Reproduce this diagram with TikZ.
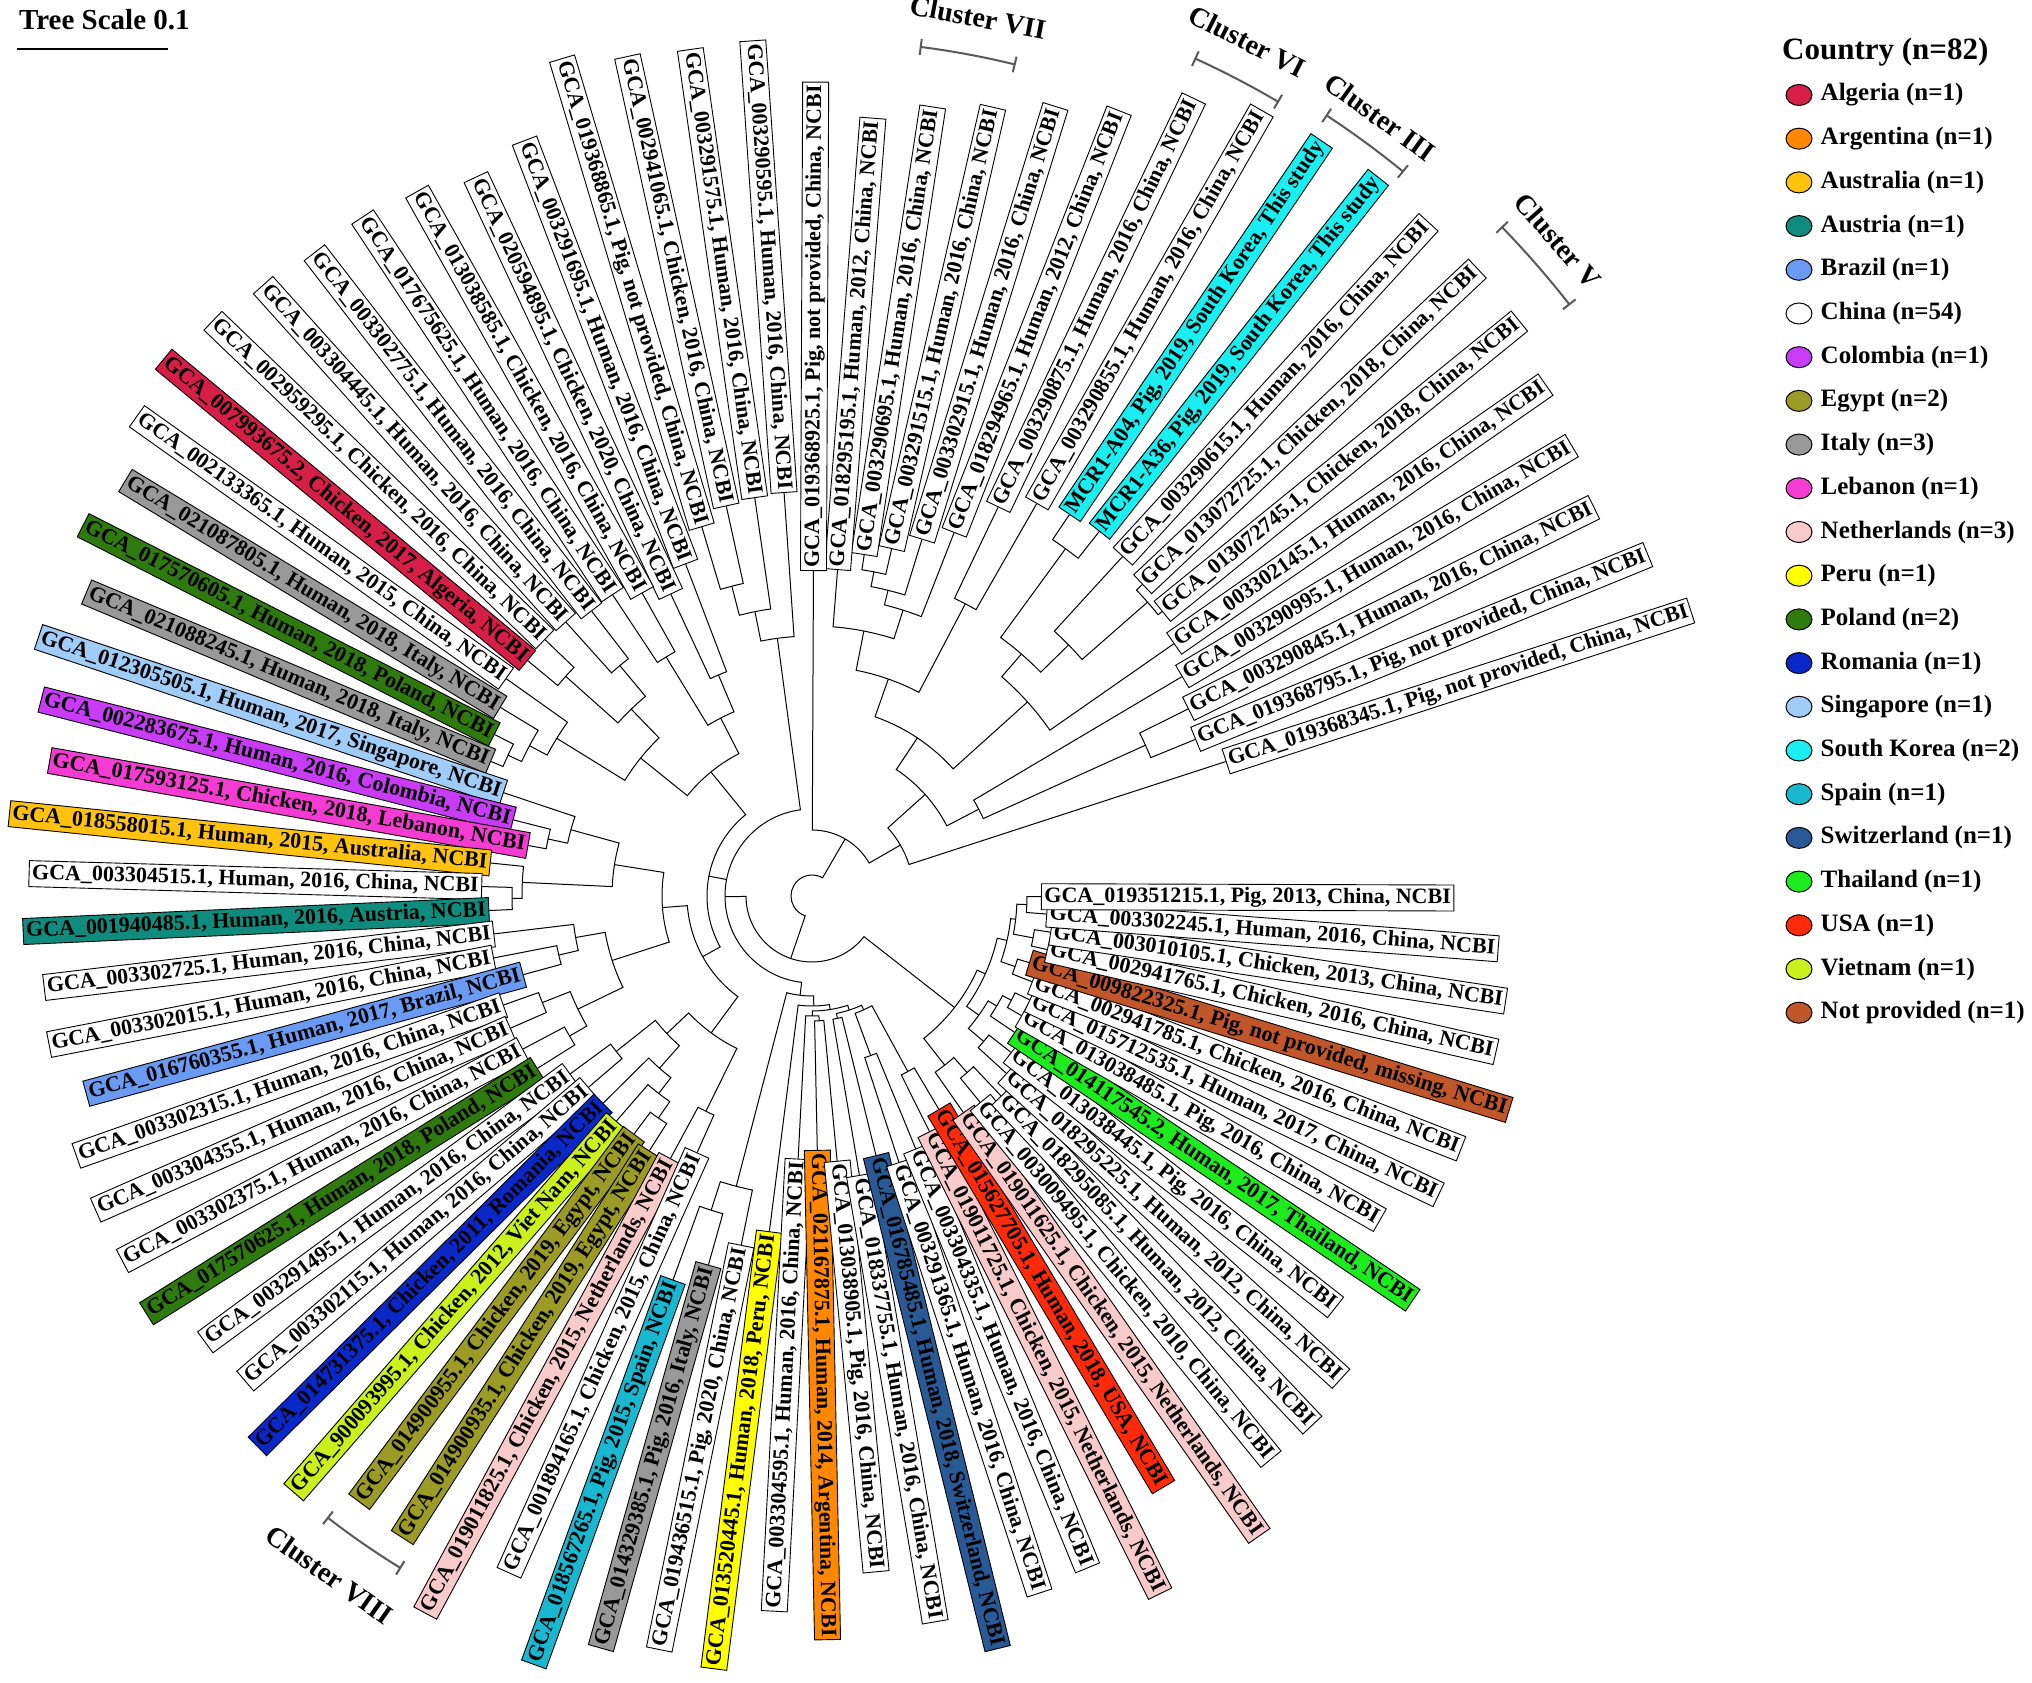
\documentclass[tikz,border=0pt]{standalone}
\usepackage{fontspec}
\setmainfont{Liberation Serif}
\usetikzlibrary{shapes.geometric}

\definecolor{cAlg}{HTML}{D61E46}
\definecolor{cArg}{HTML}{FF8800}
\definecolor{cAus}{HTML}{FFC30F}
\definecolor{cAut}{HTML}{0F8C7D}
\definecolor{cBra}{HTML}{6A9AF2}
\definecolor{cCol}{HTML}{C83CF5}
\definecolor{cEgy}{HTML}{9C9B26}
\definecolor{cIta}{HTML}{999999}
\definecolor{cLeb}{HTML}{F53CD2}
\definecolor{cNet}{HTML}{F9CACA}
\definecolor{cPer}{HTML}{FFFF00}
\definecolor{cPol}{HTML}{2F7A0F}
\definecolor{cRom}{HTML}{0A28C8}
\definecolor{cSin}{HTML}{A0CCF8}
\definecolor{cKor}{HTML}{1AEEF0}
\definecolor{cSpa}{HTML}{1AB8D0}
\definecolor{cSwi}{HTML}{295A96}
\definecolor{cTha}{HTML}{1EEB1E}
\definecolor{cUSA}{HTML}{FF2A0A}
\definecolor{cVie}{HTML}{CCF01E}
\definecolor{cNot}{HTML}{C0562A}

\tikzset{branch/.style = {line width = 1pt},
         lbl/.style = {draw, line width = 0.9pt, inner xsep = 3pt, inner ysep = 3pt,
                       text height = 15.5pt, text depth = 4.5pt,
                       font = \fontsize{22}{24}\selectfont\bfseries},
         keydot/.style = {ellipse, draw, line width = 1pt, minimum width = 26pt,
                          minimum height = 21pt, inner sep = 0pt},
         keytxt/.style = {anchor = west, inner sep = 0pt,
                          font = \fontsize{25}{28}\selectfont\bfseries},
         clbr/.style = {draw = black!65, line width = 2pt},
         cltxt/.style = {inner sep = 0pt, font = \fontsize{28}{31}\selectfont\bfseries}
        }

\newcommand\tnode[4]{%
  \edef\ca{\csname ta@#3\endcsname}\edef\cb{\csname ta@#4\endcsname}%
  \edef\ra{\csname tr@#3\endcsname}\edef\rb{\csname tr@#4\endcsname}%
  \draw[branch] (\ca:\ra) -- (\ca:#2) arc[start angle=\ca, end angle=\cb, radius=#2] -- (\cb:\rb);%
  \pgfmathsetmacro\tmp{(\ca+\cb)/2}%
  \expandafter\xdef\csname ta@#1\endcsname{\tmp}%
  \expandafter\xdef\csname tr@#1\endcsname{#2}}

\newcommand\tnodeiii[5]{%
  \edef\ca{\csname ta@#3\endcsname}\edef\cb{\csname ta@#4\endcsname}\edef\cc{\csname ta@#5\endcsname}%
  \edef\ra{\csname tr@#3\endcsname}\edef\rb{\csname tr@#4\endcsname}\edef\rc{\csname tr@#5\endcsname}%
  \draw[branch] (\ca:\ra) -- (\ca:#2) arc[start angle=\ca, end angle=\cc, radius=#2] -- (\cc:\rc);%
  \draw[branch] (\cb:#2) -- (\cb:\rb);%
  \pgfmathsetmacro\tmp{(\ca+\cc)/2}%
  \expandafter\xdef\csname ta@#1\endcsname{\tmp}%
  \expandafter\xdef\csname tr@#1\endcsname{#2}}

\pgfdeclarelayer{bg}
\pgfsetlayers{bg,main}

\begin{document}
\begin{tikzpicture}[x=1pt, y=1pt]
  \useasboundingbox (-812,-787) rectangle (1220,896);
  \begin{pgfonlayer}{bg}
    \fill[white] (-812,-787) rectangle (1220,896);
  \end{pgfonlayer}

  \foreach \lid/\rad/\col/\txt in {
    1/435/white/{GCA\_019368345.1, Pig, not provided, China, NCBI},
    2/414/white/{GCA\_019368795.1, Pig, not provided, China, NCBI},
    3/420/white/{GCA\_003290845.1, Human, 2016, China, NCBI},
    4/430/white/{GCA\_003290995.1, Human, 2016, China, NCBI},
    5/441/white/{GCA\_003302145.1, Human, 2016, China, NCBI},
    6/451/white/{GCA\_013072745.1, Chicken, 2018, China, NCBI},
    7/454/white/{GCA\_013072725.1, Chicken, 2018, China, NCBI},
    8/460/white/{GCA\_003290615.1, Human, 2016, China, NCBI},
    9/464/cKor/{MCR1-A36, Pig, 2019, South Korea, This study},
    10/460/cKor/{MCR1-A04, Pig, 2019, South Korea, This study},
    11/452/white/{GCA\_003290855.1, Human, 2016, China, NCBI},
    12/431/white/{GCA\_003290875.1, Human, 2016, China, NCBI},
    13/390/white/{GCA\_018294965.1, Human, 2012, China, NCBI},
    14/373/white/{GCA\_003302915.1, Human, 2016, China, NCBI},
    15/356/white/{GCA\_003291515.1, Human, 2016, China, NCBI},
    16/345/white/{GCA\_003290695.1, Human, 2016, China, NCBI},
    17/327/white/{GCA\_018295195.1, Human, 2012, China, NCBI},
    18/325/white/{GCA\_019368925.1, Pig, not provided, China, NCBI},
    19/404/white/{GCA\_003290595.1, Human, 2016, China, NCBI},
    20/402/white/{GCA\_003291575.1, Human, 2016, China, NCBI},
    21/399/white/{GCA\_002941065.1, Chicken, 2016, China, NCBI},
    22/385/white/{GCA\_019368865.1, Pig, not provided, China, NCBI},
    23/355/white/{GCA\_003291695.1, Human, 2016, China, NCBI},
    24/333/white/{GCA\_020594895.1, Chicken, 2020, China, NCBI},
    25/347/white/{GCA\_013038585.1, Chicken, 2016, China, NCBI},
    26/361/white/{GCA\_017675625.1, Human, 2016, China, NCBI},
    27/360/white/{GCA\_003302775.1, Human, 2016, China, NCBI},
    28/368/white/{GCA\_003304445.1, Human, 2016, China, NCBI},
    29/370/white/{GCA\_002959295.1, Chicken, 2016, China, NCBI},
    30/369/cAlg/{GCA\_007993675.2, Chicken, 2017, Algeria, NCBI},
    31/375/white/{GCA\_002133365.1, Human, 2015, China, NCBI},
    32/364/cIta/{GCA\_021087805.1, Human, 2018, Italy, NCBI},
    33/356/cPol/{GCA\_017570605.1, Human, 2018, Poland, NCBI},
    34/348/cIta/{GCA\_021088245.1, Human, 2018, Italy, NCBI},
    35/325/cSin/{GCA\_012305505.1, Human, 2017, Singapore, NCBI},
    36/308/cCol/{GCA\_002283675.1, Human, 2016, Colombia, NCBI},
    37/288/cLeb/{GCA\_017593125.1, Chicken, 2018, Lebanon, NCBI},
    38/323/cAus/{GCA\_018558015.1, Human, 2015, Australia, NCBI},
    39/330/white/{GCA\_003304515.1, Human, 2016, China, NCBI},
    40/323/cAut/{GCA\_001940485.1, Human, 2016, Austria, NCBI},
    41/320/white/{GCA\_003302725.1, Human, 2016, China, NCBI},
    42/324/white/{GCA\_003302015.1, Human, 2016, China, NCBI},
    43/299/cBra/{GCA\_016760355.1, Human, 2017, Brazil, NCBI},
    44/327/white/{GCA\_003302315.1, Human, 2016, China, NCBI},
    45/329/white/{GCA\_003304355.1, Human, 2016, China, NCBI},
    46/327/white/{GCA\_003302375.1, Human, 2016, China, NCBI},
    47/324/cPol/{GCA\_017570625.1, Human, 2018, Poland, NCBI},
    48/300/white/{GCA\_003291495.1, Human, 2016, China, NCBI},
    49/294/white/{GCA\_003302115.1, Human, 2016, China, NCBI},
    50/294/cRom/{GCA\_014731375.1, Chicken, 2011, Romania, NCBI},
    51/298/cVie/{GCA\_900093995.1, Chicken, 2012, Viet Nam, NCBI},
    52/297/cEgy/{GCA\_014900955.1, Chicken, 2019, Egypt, NCBI},
    53/302/cEgy/{GCA\_014900935.1, Chicken, 2019, Egypt, NCBI},
    54/298/cNet/{GCA\_019011825.1, Chicken, 2015, Netherlands, NCBI},
    55/281/white/{GCA\_001894165.1, Chicken, 2015, China, NCBI},
    56/408/cSpa/{GCA\_018567265.1, Pig, 2015, Spain, NCBI},
    57/383/cIta/{GCA\_014329385.1, Pig, 2016, Italy, NCBI},
    58/356/white/{GCA\_019436515.1, Pig, 2020, China, NCBI},
    59/338/cPer/{GCA\_013520445.1, Human, 2018, Peru, NCBI},
    60/263/white/{GCA\_003304595.1, Human, 2016, China, NCBI},
    61/254/cArg/{GCA\_021167875.1, Human, 2014, Argentina, NCBI},
    62/266/white/{GCA\_013038905.1, Pig, 2016, China, NCBI},
    63/283/white/{GCA\_018337755.1, Human, 2016, China, NCBI},
    64/267/cSwi/{GCA\_016785485.1, Human, 2018, Switzerland, NCBI},
    65/280/white/{GCA\_003291365.1, Human, 2016, China, NCBI},
    66/273/white/{GCA\_003304335.1, Human, 2016, China, NCBI},
    67/263/cNet/{GCA\_019011725.1, Chicken, 2015, Netherlands, NCBI},
    68/248/cUSA/{GCA\_015627705.1, Human, 2018, USA, NCBI},
    69/264/cNet/{GCA\_019011625.1, Chicken, 2015, Netherlands, NCBI},
    70/266/white/{GCA\_003009495.1, Chicken, 2010, China, NCBI},
    71/275/white/{GCA\_018295085.1, Human, 2012, China, NCBI},
    72/263/white/{GCA\_018295225.1, Human, 2012, China, NCBI},
    73/253/white/{GCA\_013038445.1, Pig, 2016, China, NCBI},
    74/244/cTha/{GCA\_014117545.2, Human, 2017, Thailand, NCBI},
    75/241/white/{GCA\_013038485.1, Pig, 2016, China, NCBI},
    76/241/white/{GCA\_015712535.1, Human, 2017, China, NCBI},
    77/236/white/{GCA\_002941785.1, Chicken, 2016, China, NCBI},
    78/227/cNot/{GCA\_009822325.1, Pig, not provided, missing, NCBI},
    79/241/white/{GCA\_002941765.1, Chicken, 2016, China, NCBI},
    80/241/white/{GCA\_003010105.1, Chicken, 2013, China, NCBI},
    81/235/white/{GCA\_003302245.1, Human, 2016, China, NCBI},
    82/229/white/{GCA\_019351215.1, Pig, 2013, China, NCBI}} {
    \pgfmathsetmacro\ang{18+(\lid-1)*4.22}
    \pgfmathtruncatemacro\lft{(\ang>90)*(\ang<270)}
    \ifnum\lft=1 \pgfmathsetmacro\rot{\ang-180}\def\anc{east}\else\let\rot\ang\def\anc{west}\fi
    \expandafter\xdef\csname ta@\lid\endcsname{\ang}
    \expandafter\xdef\csname tr@\lid\endcsname{\rad}
    \coordinate (tip\lid) at (\ang:\rad);
    \node[lbl, fill=\col, rotate=\rot, anchor=\anc] (L\lid) at (tip\lid) {\txt};
  }

  \begin{pgfonlayer}{bg}
    \tnode{n5}{366}{2}{3}
    \tnode{n3}{188}{n5}{4}
    \tnode{n10a}{446}{6}{7}
    \tnode{n10}{359}{n10a}{8}
    \tnode{n11}{430}{9}{10}
    \tnode{n9}{320}{n10}{n11}
    \tnode{n7}{290}{5}{n9}
    \tnode{n12}{330}{11}{12}
    \tnode{n13a}{330}{15}{16}
    \tnode{n13b}{315}{14}{n13a}
    \tnode{n13c}{300}{13}{n13b}
    \tnode{n13}{270}{n13c}{17}
    \tnode{n8}{230}{n12}{n13}
    \tnode{n4}{190}{n7}{n8}
    \tnode{n2}{152}{n3}{n4}
    \tnode{n1}{102}{1}{n2}
    \tnode{a}{66}{n1}{18}
    \tnode{y}{320}{21}{22}
    \tnode{x}{290}{20}{y}
    \tnode{tl}{260}{19}{x}
    \tnode{t1}{240}{23}{24}
    \tnode{t3}{280}{25}{26}
    \tnode{t2}{200}{t1}{t3}
    \tnode{t4}{300}{27}{28}
    \tnode{t5}{330}{29}{30}
    \tnode{t6}{260}{t4}{t5}
    \tnode{t7c}{335}{33}{34}
    \tnode{t7b}{320}{32}{t7c}
    \tnode{t7}{300}{31}{t7b}
    \tnode{t8}{220}{t6}{t7}
    \tnode{tl2}{160}{t2}{t8}
    \tnode{m1a}{270}{36}{37}
    \tnode{m1}{250}{35}{m1a}
    \tnode{m2a}{300}{39}{40}
    \tnode{m2}{290}{38}{m2a}
    \tnode{m3}{200}{m1}{m2}
    \tnode{m4a}{260}{42}{43}
    \tnode{m4}{240}{41}{m4a}
    \tnode{m5a}{290}{44}{45}
    \tnode{m5b}{280}{46}{47}
    \tnode{m5}{260}{m5a}{m5b}
    \tnode{m6}{210}{m4}{m5}
    \tnode{m7}{150}{m3}{m6}
    \tnode{m8a}{250}{48}{49}
    \tnode{m8d}{270}{52}{53}
    \tnode{m8c}{250}{51}{m8d}
    \tnode{m8b}{230}{50}{m8c}
    \tnode{m8}{200}{m8a}{m8b}
    \tnode{m9}{240}{54}{55}
    \tnode{m10}{170}{m8}{m9}
    \tnode{ml}{125}{m7}{m10}
    \tnode{ll}{105}{tl2}{ml}
    \tnode{g1a}{330}{56}{57}
    \tnode{g1}{300}{g1a}{58}
    \tnode{h1a}{125}{61}{62}
    \tnode{h1}{120}{60}{h1a}
    \tnode{h3}{125}{63}{64}
    \tnode{h4a}{170}{65}{66}
    \tnode{h4b}{200}{67}{68}
    \tnode{h4}{125}{h4a}{h4b}
    \tnode{h2}{120}{h3}{h4}
    \tnode{h}{115}{h1}{h2}
    \tnode{g2}{110}{59}{h}
    \tnode{bl}{100}{g1}{g2}
    \tnodeiii{b1}{87}{tl}{ll}{bl}
    \tnode{e1}{215}{81}{82}
    \tnode{e2}{225}{79}{80}
    \tnode{e3}{205}{e2}{e1}
    \tnode{e4}{215}{77}{78}
    \tnode{e5}{200}{e4}{e3}
    \tnode{e6}{225}{75}{76}
    \tnode{e7}{215}{74}{e6}
    \tnode{e8}{225}{72}{73}
    \tnode{e9}{205}{e8}{e7}
    \tnode{e10}{190}{e9}{e5}
    \tnode{e11}{235}{70}{71}
    \tnode{e12}{215}{69}{e11}
    \tnode{b2}{181}{e12}{e10}
    \tnode{b}{66}{b1}{b2}
    \tnode{root}{21}{a}{b}
  \end{pgfonlayer}

  \foreach \p/\q/\rr in {76.3/82.7/856, 59.6/65.4/921, 50.8/56.6/935, 38/44.1/961, 232.1/238.5/788}
    \draw[clbr] ({\p}:{\rr-8}) -- ({\p}:{\rr+8}) ({\p}:\rr) arc[start angle=\p, end angle=\q, radius=\rr]
                ({\q}:{\rr-8}) -- ({\q}:{\rr+8});
  \node[cltxt, rotate=-10.7] (c7) at (79.3:894) {Cluster VII};
  \node[cltxt, rotate=-27] (c6) at (63:959) {Cluster VI};
  \node[cltxt, rotate=-36.1] (c3) at (53.9:964) {Cluster III};
  \node[cltxt, rotate=-48.7] (c5) at (41.3:993) {Cluster V};
  \node[cltxt, rotate=-35.4] (c8) at (234.6:833) {Cluster VIII};

  \node[cltxt, anchor=west, font=\fontsize{29}{32}\selectfont\bfseries] (scl) at (-793,876) {Tree Scale 0.1};
  \coordinate (sclA) at (-795,847);
  \coordinate (sclB) at (-644,847);
  \draw[line width=2pt] (sclA) -- (sclB);

  \node[keytxt, font=\fontsize{31}{34}\selectfont\bfseries] (ktitle) at (970,844) {Country (n=82)};
  \foreach \k/\col/\txt in {1/cAlg/Algeria (n=1), 2/cArg/Argentina (n=1), 3/cAus/Australia (n=1),
      4/cAut/Austria (n=1), 5/cBra/Brazil (n=1), 6/white/China (n=54), 7/cCol/Colombia (n=1),
      8/cEgy/Egypt (n=2), 9/cIta/Italy (n=3), 10/cLeb/Lebanon (n=1), 11/cNet/Netherlands (n=3),
      12/cPer/Peru (n=1), 13/cPol/Poland (n=2), 14/cRom/Romania (n=1), 15/cSin/Singapore (n=1),
      16/cKor/South Korea (n=2), 17/cSpa/Spain (n=1), 18/cSwi/Switzerland (n=1),
      19/cTha/Thailand (n=1), 20/cUSA/USA (n=1), 21/cVie/Vietnam (n=1), 22/cNot/Not provided (n=1)} {
    \node[keydot, fill=\col] (k\k) at (987,{801-(\k-1)*43.7}) {};
    \node[keytxt] (kt\k) at ([xshift=8pt]k\k.east) {\txt};
  }
\end{tikzpicture}
\end{document}
